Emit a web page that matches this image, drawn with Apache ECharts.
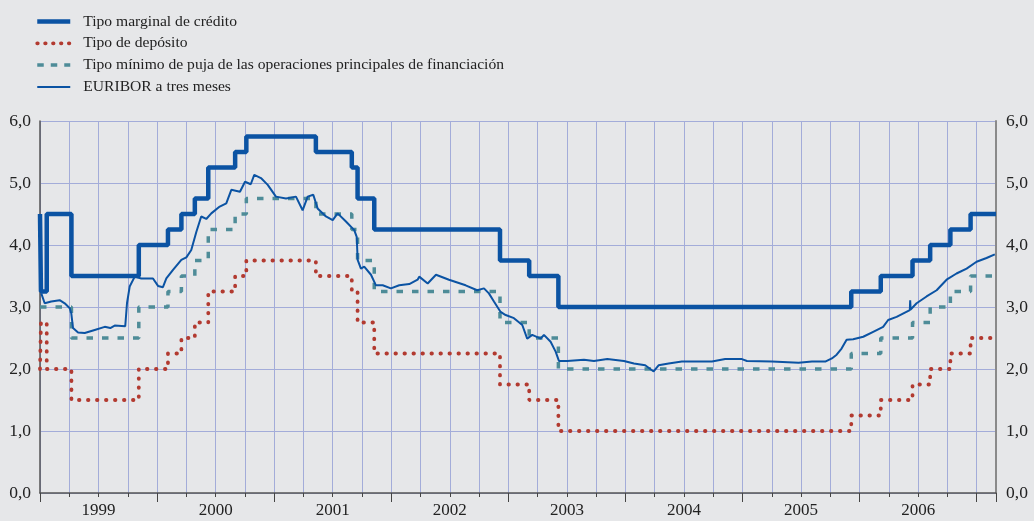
<!DOCTYPE html>
<html>
<head>
<meta charset="utf-8">
<script src="https://cdn.jsdelivr.net/npm/echarts@6/dist/echarts.min.js"></script>
<style>
  html, body { margin: 0; padding: 0; background: #e6e7e9; }
  #chart { width: 1034px; height: 521px; }
</style>
</head>
<body>
<div id="chart"></div>
<script>
// fechas de cambio de los tipos oficiales
const policyDates = ['1999-01-01', '1999-01-04', '1999-01-22', '1999-04-09', '1999-11-05',
  '2000-02-04', '2000-03-17', '2000-04-28', '2000-06-09', '2000-09-01', '2000-10-06',
  '2001-05-11', '2001-08-31', '2001-09-18', '2001-11-09', '2002-12-06', '2003-03-07',
  '2003-06-06', '2005-12-06', '2006-03-08', '2006-06-15', '2006-08-09', '2006-10-11',
  '2006-12-13'];
const marginal = [4.5, 3.25, 4.5, 3.5, 4.0, 4.25, 4.5, 4.75, 5.25, 5.5, 5.75,
  5.5, 5.25, 4.75, 4.25, 3.75, 3.5, 3.0, 3.25, 3.5, 3.75, 4.0, 4.25, 4.5];
const deposit = [2.0, 2.75, 2.0, 1.5, 2.0, 2.25, 2.5, 2.75, 3.25, 3.5, 3.75,
  3.5, 3.25, 2.75, 2.25, 1.75, 1.5, 1.0, 1.25, 1.5, 1.75, 2.0, 2.25, 2.5];
const minBid = [3.0, 3.0, 3.0, 2.5, 3.0, 3.25, 3.5, 3.75, 4.25, 4.5, 4.75,
  4.5, 4.25, 3.75, 3.25, 2.75, 2.5, 2.0, 2.25, 2.5, 2.75, 3.0, 3.25, 3.5];

// EURIBOR a tres meses (año decimal, %)
const euriborT = [1999.011, 1999.040, 1999.096, 1999.168, 1999.211, 1999.254, 1999.267, 1999.282,
  1999.325, 1999.382, 1999.467, 1999.553, 1999.600, 1999.638, 1999.728, 1999.743, 1999.766,
  1999.809, 1999.865, 1999.965, 2000.008, 2000.050, 2000.079, 2000.136, 2000.207, 2000.250,
  2000.292, 2000.335, 2000.377, 2000.420, 2000.463, 2000.535, 2000.591, 2000.634, 2000.708,
  2000.751, 2000.800, 2000.830, 2000.887, 2000.945, 2001.015, 2001.101, 2001.186, 2001.243,
  2001.286, 2001.334, 2001.371, 2001.442, 2001.500, 2001.542, 2001.613, 2001.684, 2001.705,
  2001.713, 2001.741, 2001.769, 2001.827, 2001.869, 2001.927, 2001.997, 2002.068, 2002.154,
  2002.225, 2002.239, 2002.311, 2002.382, 2002.493, 2002.635, 2002.734, 2002.792, 2002.834,
  2002.877, 2002.934, 2002.977, 2003.048, 2003.119, 2003.161, 2003.204, 2003.276, 2003.304,
  2003.361, 2003.404, 2003.432, 2003.503, 2003.646, 2003.731, 2003.845, 2003.987, 2004.073,
  2004.169, 2004.241, 2004.283, 2004.369, 2004.482, 2004.739, 2004.852, 2004.995, 2005.038,
  2005.251, 2005.479, 2005.593, 2005.707, 2005.763, 2005.804, 2005.846, 2005.889, 2005.945,
  2006.031, 2006.116, 2006.201, 2006.244, 2006.316, 2006.387, 2006.429, 2006.432, 2006.436,
  2006.487, 2006.572, 2006.658, 2006.743, 2006.828, 2006.914, 2006.999, 2007.084, 2007.155];
const euriborV = [3.22, 3.06, 3.09, 3.11, 3.06, 2.98, 2.90, 2.66,
  2.59, 2.58, 2.63, 2.68, 2.66, 2.70, 2.69, 3.06, 3.33,
  3.49, 3.46, 3.46, 3.34, 3.32, 3.46, 3.60, 3.76, 3.80,
  3.92, 4.21, 4.46, 4.42, 4.51, 4.62, 4.67, 4.89, 4.86,
  5.02, 4.98, 5.13, 5.08, 4.97, 4.78, 4.75, 4.78, 4.56,
  4.78, 4.81, 4.59, 4.46, 4.40, 4.51, 4.38, 4.24, 4.13,
  3.76, 3.62, 3.65, 3.52, 3.35, 3.35, 3.30, 3.35, 3.37,
  3.44, 3.49, 3.38, 3.52, 3.44, 3.35, 3.27, 3.30, 3.22,
  3.09, 2.92, 2.87, 2.82, 2.71, 2.49, 2.55, 2.49, 2.55,
  2.44, 2.28, 2.13, 2.13, 2.15, 2.13, 2.16, 2.13, 2.09,
  2.06, 1.96, 2.06, 2.09, 2.12, 2.12, 2.16, 2.16, 2.13,
  2.12, 2.10, 2.12, 2.12, 2.17, 2.23, 2.33, 2.47, 2.48,
  2.52, 2.60, 2.68, 2.79, 2.84, 2.91, 2.95, 3.11, 2.96,
  3.06, 3.17, 3.27, 3.44, 3.54, 3.62, 3.73, 3.79, 3.85];

const xMin = 1999;
const xMax = 2007.165;

const seriesNames = ['Tipo marginal de crédito', 'Tipo de depósito',
  'Tipo mínimo de puja de las operaciones principales de financiación', 'EURIBOR a tres meses'];

const blue = '#0b53a3';
const red = '#b23a30';
const teal = '#4e8c98';
const gridColor = '#a3acd9';
const font = 'Liberation Serif';

// fecha -> año decimal
const toYear = (s) => {
  const d = new Date(s + 'T00:00:00Z');
  const y = d.getUTCFullYear();
  const a = Date.UTC(y, 0, 1), b = Date.UTC(y + 1, 0, 1);
  return y + (d.getTime() - a) / (b - a);
};

const steps = (vals) => {
  const out = policyDates.map((d, i) => [toYear(d), vals[i]]);
  out.push([xMax, vals[vals.length - 1]]);
  return out;
};

const noSymbol = { opacity: 0 };

const chart = echarts.init(document.getElementById('chart'));

const option = {
  animation: false,
  backgroundColor: '#e6e7e9',
  textStyle: { fontFamily: font },
  grid: { left: 40, right: 38, top: 121, bottom: 28 },
  legend: {
    orient: 'vertical',
    left: 30,
    top: 8.5,
    itemWidth: 33,
    itemHeight: 14,
    itemGap: 5.8,
    textStyle: { fontFamily: font, fontSize: 15.6, color: '#222', padding: [0, 0, 0, 8] },
    data: [
      { name: seriesNames[0], itemStyle: noSymbol, lineStyle: { color: blue, width: 4.5 } },
      { name: seriesNames[1], itemStyle: noSymbol, lineStyle: { color: red, width: 3.8, type: [0.5, 7.4], cap: 'round' } },
      { name: seriesNames[2], itemStyle: noSymbol, lineStyle: { color: teal, width: 3.5, type: [6.5, 7] } },
      { name: seriesNames[3], itemStyle: noSymbol, lineStyle: { color: blue, width: 2 } }
    ]
  },
  xAxis: [
    {
      type: 'value', min: xMin, max: xMax, interval: 0.25,
      axisLine: { show: true, lineStyle: { color: '#555', width: 1.5 } },
      axisTick: { show: true, length: 4, lineStyle: { color: '#444' } },
      axisLabel: {
        margin: 9, fontFamily: font, fontSize: 17, color: '#222',
        formatter: (v) => (v - Math.floor(v) === 0.5 ? String(Math.floor(v)) : '')
      },
      splitLine: { show: true, lineStyle: { color: gridColor, width: 1 } }
    },
    {
      type: 'value', min: xMin, max: xMax, interval: 1, position: 'bottom',
      axisLine: { show: false },
      axisTick: { show: true, length: 9, lineStyle: { color: '#444' } },
      axisLabel: { show: false },
      splitLine: { show: false }
    }
  ],
  yAxis: [
    {
      type: 'value', min: 0, max: 6, interval: 1, position: 'left',
      axisLine: { show: true, lineStyle: { color: '#555', width: 1.5 } },
      axisTick: { show: false },
      axisLabel: {
        margin: 9, fontFamily: font, fontSize: 17.5, color: '#222',
        formatter: (v) => v.toFixed(1).replace('.', ',')
      },
      splitLine: { show: true, lineStyle: { color: gridColor, width: 1 } }
    },
    {
      type: 'value', min: 0, max: 6, interval: 1, position: 'right',
      axisLine: { show: true, lineStyle: { color: '#8a8a8a', width: 2 } },
      axisTick: { show: false },
      axisLabel: {
        margin: 10, fontFamily: font, fontSize: 17.5, color: '#222',
        formatter: (v) => v.toFixed(1).replace('.', ',')
      },
      splitLine: { show: false }
    }
  ],
  series: [
    {
      name: seriesNames[0], type: 'line', step: 'end', symbol: 'none',
      data: steps(marginal),
      lineStyle: { color: blue, width: 4.5 }, itemStyle: { color: blue }, z: 3
    },
    {
      name: seriesNames[1], type: 'line', step: 'end', symbol: 'none',
      data: steps(deposit),
      lineStyle: { color: red, width: 3.8, type: [0.5, 8.5], cap: 'round' }, itemStyle: { color: red }, z: 2
    },
    {
      name: seriesNames[2], type: 'line', step: 'end', symbol: 'none',
      data: steps(minBid),
      lineStyle: { color: teal, width: 3.5, type: [6.5, 9] }, itemStyle: { color: teal }, z: 2
    },
    {
      name: seriesNames[3], type: 'line', symbol: 'none',
      data: euriborT.map((t, i) => [t, euriborV[i]]),
      lineStyle: { color: blue, width: 2 }, itemStyle: { color: blue }, z: 4
    }
  ]
};

chart.setOption(option);
</script>
</body>
</html>
